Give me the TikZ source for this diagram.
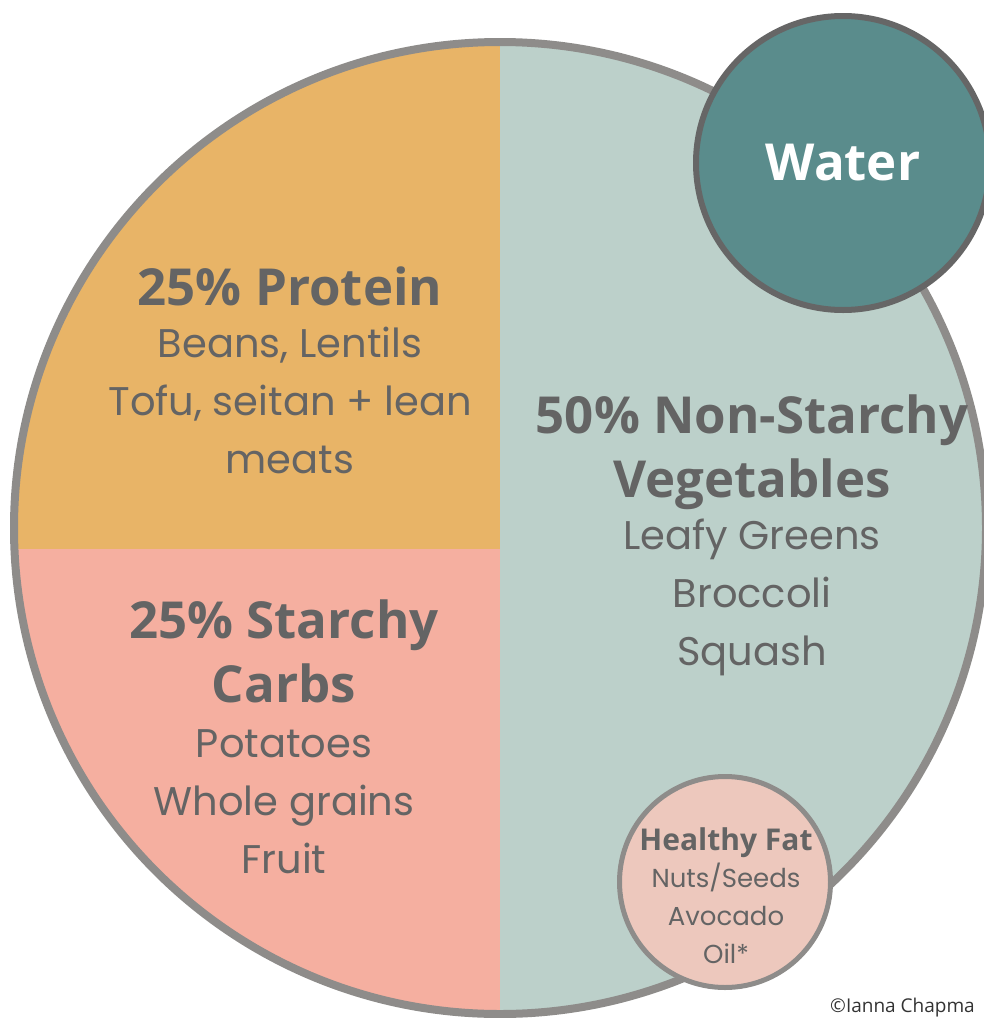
\documentclass[tikz,border=0pt]{standalone}
\usepackage{fontspec}
\setmainfont{Open Sans}
\newfontfamily\handfont{Poppins}
\usetikzlibrary{positioning}

\definecolor{protein}{HTML}{E8B467}
\definecolor{carbs}{HTML}{F5AFA0}
\definecolor{veggies}{HTML}{BCD0CA}
\definecolor{water}{HTML}{5A8C8C}
\definecolor{fat}{HTML}{EDC8BD}
\definecolor{rim}{HTML}{8E8C8A}
\definecolor{waterrim}{HTML}{666666}
\definecolor{ink}{HTML}{646464}

\tikzset{
  heading/.style={font=\bfseries\fontsize{51}{64}\selectfont, text=ink, align=center, inner sep=0pt, anchor=base},
  items/.style={font=\handfont\fontsize{40}{58}\selectfont, text=ink, align=center, inner sep=0pt, anchor=base},
  smallheading/.style={font=\bfseries\fontsize{30}{34}\selectfont, text=ink, align=center, inner sep=0pt, anchor=base},
  smallitems/.style={font=\handfont\fontsize{26}{38}\selectfont, text=ink, align=center, inner sep=0pt, anchor=base},
}

\begin{document}
\begin{tikzpicture}[x=1pt, y=-1pt]
    \useasboundingbox (0,0) rectangle (984,1018);

    % plate sections
    \begin{scope}
        \clip (500,528) circle[radius=486];
        \fill[veggies] (0,0) rectangle (984,1018);
        \fill[protein] (0,0) rectangle (500,549);
        \fill[carbs] (0,549) rectangle (500,1018);
    \end{scope}
    \node[circle, draw=rim, line width=8pt, minimum size=972pt, inner sep=0pt] (plate) at (500,528) {};

    \node[circle, draw=waterrim, fill=water, line width=6pt, minimum size=294pt, inner sep=0pt,
          text=white, font=\bfseries\fontsize{51}{60}\selectfont] (water) at (843,163) {Water};
    \node[circle, draw=rim, fill=fat, line width=5pt, minimum size=211pt, inner sep=0pt] (fat) at (725,882) {};

    % labels (base = last line)
    \node[heading] (proteintitle) at (290,305) {25\% Protein};
    \node[items] (proteinlist) at (290,473) {Beans, Lentils\\Tofu, seitan + lean\\meats};

    \node[heading] (veggiestitle) at (752,497) {50\% Non-Starchy\\Vegetables};
    \node[items] (veggieslist) at (752,665) {Leafy Greens\\Broccoli\\Squash};

    \node[heading] (carbstitle) at (284,702) {25\% Starchy\\Carbs};
    \node[items] (carbslist) at (284,873) {Potatoes\\Whole grains\\Fruit};

    \node[smallheading] (fattitle) at (726,850) {Healthy Fat};
    \node[smallitems] (fatlist) at (726,963) {Nuts/Seeds\\Avocado\\Oil*};

    \node[anchor=base west, inner sep=0pt, text=black!80, font=\fontsize{19}{22}\selectfont] (credit) at (830,1012) {©Ianna Chapma};
\end{tikzpicture}
\end{document}
